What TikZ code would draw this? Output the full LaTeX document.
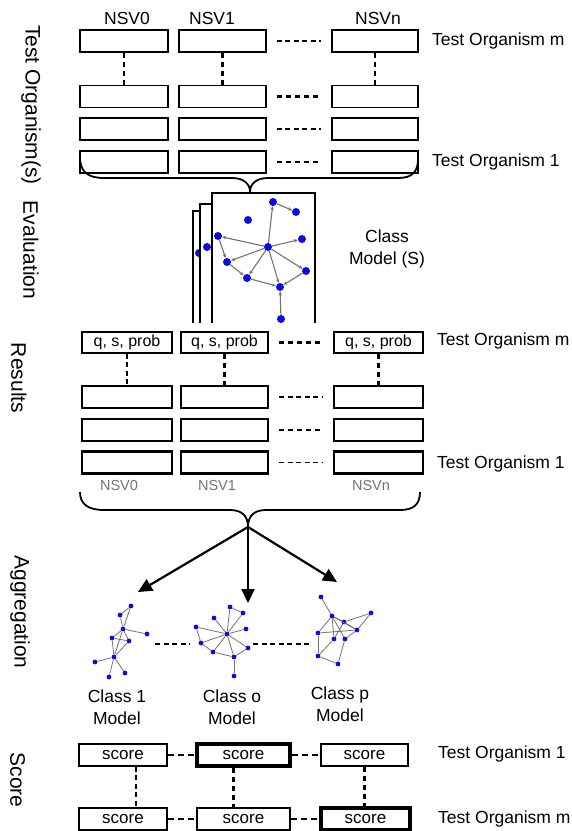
\documentclass[tikz,border=0pt]{standalone}
\usepackage{fontspec}
\setmainfont{Liberation Sans}
\usetikzlibrary{arrows.meta,calc}
\definecolor{dotblue}{RGB}{12,12,225}
\definecolor{edgegray}{RGB}{115,115,115}
\begin{document}
\begin{tikzpicture}[x=1pt,y=-1pt]
\tikzset{
  lbl/.style={font=\fontsize{17.5pt}{22pt}\selectfont, inner sep=0pt},
  side/.style={font=\fontsize{21pt}{25pt}\selectfont, rotate=-90, inner sep=0pt},
  graylbl/.style={font=\fontsize{14.5pt}{17pt}\selectfont, text=black!55, inner sep=0pt},
  box/.style={draw, line width=1.8pt, fill=white, minimum height=22pt, inner sep=0pt},
  rbox/.style={box, line width=2.4pt},
  qbox/.style={box, line width=1.4pt, minimum height=21pt, font=\fontsize{16pt}{18pt}\selectfont},
  sbox/.style={box, line width=1.4pt, minimum height=22pt, font=\fontsize{17pt}{19pt}\selectfont},
  sbold/.style={sbox, line width=4.5pt},
  hthin/.style={dash pattern=on 5pt off 3.5pt, line width=1.2pt, shorten <=10pt, shorten >=10pt},
  hthick/.style={dash pattern=on 5pt off 4pt, line width=2.2pt, shorten <=10pt, shorten >=10pt},
  vthin/.style={dash pattern=on 5pt off 3.5pt, line width=1.3pt},
  vthick/.style={dash pattern=on 5pt off 4pt, line width=2.3pt},
  sdash/.style={dash pattern=on 6pt off 4pt, line width=2.2pt},
  gdash/.style={dash pattern=on 5pt off 3.5pt, line width=1.3pt},
  brace/.style={line width=1.8pt},
  bigarrow/.style={line width=2.2pt, -{Triangle[length=14pt,width=13pt]}},
  pg/.style={circle, fill=dotblue, inner sep=0pt, minimum size=8pt},
  sm/.style={circle, fill=dotblue, inner sep=0pt, minimum size=4.8pt},
  pe/.style={draw=edgegray, line width=1.1pt, -{Stealth[length=4pt,width=3.5pt]}},
  se/.style={draw=edgegray, line width=0.8pt},
  page/.style={line width=1.8pt, fill=white},
}
\useasboundingbox (0,0) rectangle (572,831);

% ---- side captions ----
\node[side] (capTO)  at (31,105) {Test Organism(s)};
\node[side] (capEv)  at (31,250) {Evaluation};
\node[side] (capRes) at (19,378) {Results};
\node[side] (capAgg) at (20,612) {Aggregation};
\node[side] (capSc)  at (17.5,780) {Score};

% ---- test organisms ----
\node[lbl] (hN0) at (127,18) {NSV0};
\node[lbl] (hN1) at (212,18) {NSV1};
\node[lbl] (hNn) at (378,18) {NSVn};

\foreach \r/\y in {1/41,2/96.5,3/129,4/162}{
  \node[box, minimum width=88pt] (t\r a) at (124,\y) {};
  \node[box, minimum width=87pt] (t\r b) at (222.5,\y) {};
  \node[box, minimum width=86pt] (t\r n) at (375,\y) {};
}
\node[lbl, anchor=west] (toM) at (432,41) {Test Organism m};
\node[lbl, anchor=west] (to1) at (432,162) {Test Organism 1};

\draw[hthin]  (t1b.east) -- (t1n.west);
\draw[hthick] (t2b.east) -- (t2n.west);
\draw[hthin]  (t3b.east) -- (t3n.west);
\draw[hthick] (t4b.east) -- (t4n.west);
\draw[vthick] (t1a.south) -- (t2a.north);
\draw[vthick] (t1b.south) -- (t2b.north);
\draw[vthick] (t1n.south) -- (t2n.north);

% brace gathering the organisms
\draw[brace] (80,157) .. controls (80,172) and (88,178) .. (104,178) -- (232,178)
  .. controls (244,178) and (250,184) .. (250,192)
  .. controls (250,184) and (256,178) .. (268,178) -- (398,178)
  .. controls (412,178) and (418,172) .. (418,159);

% ---- stack of class model pages ----
\draw[page] (193,323) -- (193,211) -- (315,211) -- (315,323);
\node[pg] (bk3) at (199,253) {};
\draw[page] (200,323) -- (200,204) -- (315,204) -- (315,323);
\node[pg] (bk2) at (207,247) {};
\draw[page] (212,323) -- (212,193) -- (315,193) -- (315,323);

\node[pg] (pC)  at (268,247) {};
\node[pg] (pA)  at (273,202) {};
\node[pg] (pA2) at (296,212) {};
\node[pg] (pB)  at (248,220) {};
\node[pg] (pL)  at (218,236) {};
\node[pg] (pR)  at (302,239) {};
\node[pg] (pL2) at (227,262) {};
\node[pg] (pRR) at (306,271) {};
\node[pg] (pD)  at (247,278) {};
\node[pg] (pE)  at (280,287) {};
\node[pg] (pF)  at (281,319) {};
\draw[pe] (pC) -- (pA);
\draw[pe] (pA) -- (pA2);
\draw[pe] (pC) -- (pL);
\draw[pe] (pL) -- (pL2);
\draw[pe] (pC) -- (pL2);
\draw[pe] (pC) -- (pR);
\draw[pe] (pC) -- (pRR);
\draw[pe] (pC) -- (pD);
\draw[pe] (pC) -- (pE);
\draw[pe] (pD) -- (pE);
\draw[pe] (pRR) -- (pE);
\draw[pe] (pL2) -- (pD);
\draw[pe] (pF) -- (pE);

\node[lbl, align=center] (cms) at (387,249) {Class\\Model (S)};

% ---- results ----
\node[qbox, minimum width=90pt] (q1a) at (127,342.5) {q, s, prob};
\node[qbox, minimum width=87pt] (q1b) at (224.5,342.5) {q, s, prob};
\node[qbox, minimum width=89pt] (q1n) at (378.5,342.5) {q, s, prob};
\foreach \r/\y in {2/397,3/430,4/462.5}{
  \node[rbox, minimum width=90pt] (q\r a) at (127,\y) {};
  \node[rbox, minimum width=87pt] (q\r b) at (224.5,\y) {};
  \node[rbox, minimum width=89pt] (q\r n) at (378.5,\y) {};
}
\node[lbl, anchor=west] (rsM) at (437,341) {Test Organism m};
\node[lbl, anchor=west] (rs1) at (437,464) {Test Organism 1};

\draw[hthick] (q1b.east) -- (q1n.west);
\draw[hthin]  (q2b.east) -- (q2n.west);
\draw[hthick] (q3b.east) -- (q3n.west);
\draw[hthin]  (q4b.east) -- (q4n.west);
\draw[vthin]  (q1a.south) -- (q2a.north);
\draw[vthick] (q1b.south) -- (q2b.north);
\draw[vthick] (q1n.south) -- (q2n.north);

\node[graylbl] (fN0) at (119,486) {NSV0};
\node[graylbl] (fN1) at (217,486) {NSV1};
\node[graylbl] (fNn) at (371,486) {NSVn};

% brace gathering the results
\draw[brace] (80,492) .. controls (80,504) and (88,510) .. (104,510) -- (230,510)
  .. controls (242,510) and (248,516) .. (248,527)
  .. controls (248,516) and (254,510) .. (266,510) -- (400,510)
  .. controls (414,510) and (420,504) .. (420,492);

% ---- aggregation ----
\coordinate (split) at (248,527);
\coordinate (toC1) at (138,592);
\coordinate (toCo) at (248,603);
\coordinate (toCp) at (337,582);
\draw[bigarrow] (split) -- (toC1);
\draw[bigarrow] (split) -- (toCo);
\draw[bigarrow] (split) -- (toCp);

% class 1 model
\foreach \n/\x/\y in {a/131/606,b/120/615,c/123/629,d/147/634,e/112/638,
                      f/129/641,g/114/657,h/95/662,i/109/677,j/125/673}
  \node[sm] (u\n) at (\x,\y) {};
\foreach \s/\t in {a/b,a/c,b/c,c/d,c/e,c/f,e/f,c/g,e/g,f/g,g/h,g/i,g/j}
  \draw[se] (u\s) -- (u\t);

% class o model
\foreach \n/\x/\y in {c/227/634,a/230/607,b/243/613,d/214/618,e/246/629,f/196/627,
                      g/201/643,h/248/648,i/213/652,j/234/657,k/234/676}
  \node[sm] (v\n) at (\x,\y) {};
\foreach \s/\t in {c/a,a/b,c/b,c/d,c/e,c/f,c/g,c/h,c/i,c/j,f/g,g/i,i/j,j/h,j/k}
  \draw[se] (v\s) -- (v\t);

% class p model
\foreach \n/\x/\y in {a/321/597,b/332/616,c/371/613,d/344/622,e/318/633,
                      f/357/630,g/334/639,h/345/639,i/318/656,j/338/664}
  \node[sm] (w\n) at (\x,\y) {};
\foreach \s/\t in {a/b,b/d,b/e,b/g,b/h,b/f,d/f,d/c,c/f,f/h,d/g,e/f,e/i,i/j,j/h,g/i}
  \draw[se] (w\s) -- (w\t);

% dashed links between the class models
\coordinate (m1) at (155,644);
\coordinate (m2) at (190,644);
\coordinate (m3) at (253,644);
\coordinate (m4) at (310,644);
\draw[gdash] (m1) -- (m2);
\draw[gdash] (m3) -- (m4);

\node[lbl, align=center] (cl1) at (117,707) {Class 1\\Model};
\node[lbl, align=center] (clo) at (232,707) {Class o\\Model};
\node[lbl, align=center] (clp) at (340,704) {Class p\\Model};

% ---- scores ----
\node[sbox,  minimum width=88pt] (s1a) at (123,755) {score};
\node[sbold, minimum width=93pt] (s1b) at (243.5,755) {score};
\node[sbox,  minimum width=87pt] (s1c) at (364.5,755) {score};
\node[sbox,  minimum width=88pt] (s2a) at (123,819) {score};
\node[sbox,  minimum width=93pt] (s2b) at (243.5,819) {score};
\node[sbold, minimum width=89pt] (s2c) at (365.5,819) {score};
\node[lbl, anchor=west] (sc1) at (438,754) {Test Organism 1};
\node[lbl, anchor=west] (scM) at (438,819) {Test Organism m};

\draw[sdash] (s1a.east) -- (s1b.west);
\draw[sdash] (s1b.east) -- (s1c.west);
\draw[sdash] (s2a.east) -- (s2b.west);
\draw[sdash] (s2b.east) -- (s2c.west);
\draw[vthin]  ($(s1a.south)+(13,0)$) -- ($(s2a.north)+(13,0)$);
\draw[vthick] ($(s1b.south)+(-10,0)$) -- ($(s2b.north)+(-10,0)$);
\draw[vthick] (s1c.south) -- ($(s2c.north)+(-1,0)$);
\end{tikzpicture}
\end{document}
